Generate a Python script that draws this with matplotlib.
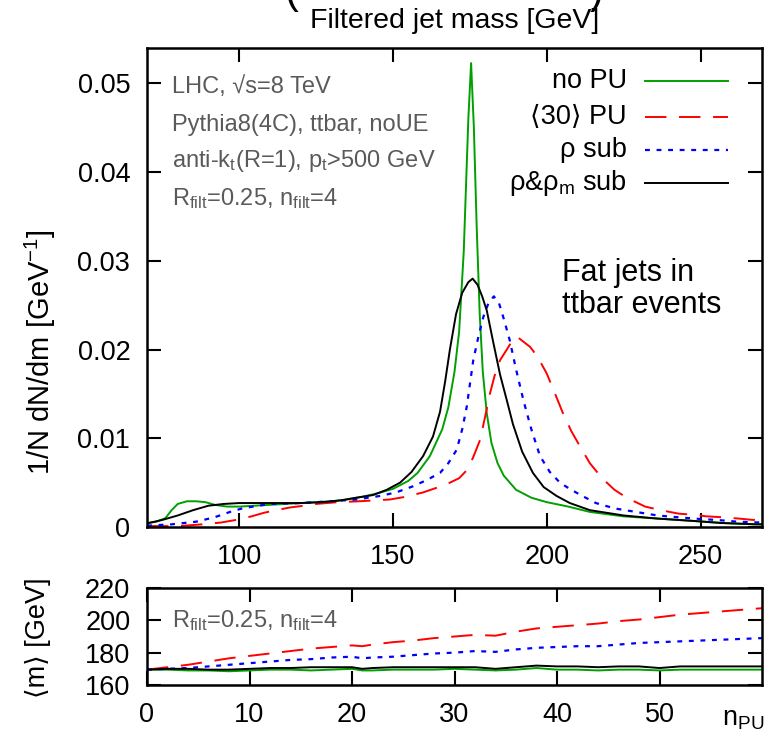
import numpy as np
import matplotlib.pyplot as plt

plt.rcParams['font.family'] = ['Liberation Sans', 'DejaVu Sans']
plt.rcParams['mathtext.fontset'] = 'custom'
plt.rcParams['mathtext.rm'] = 'Liberation Sans'
plt.rcParams['mathtext.it'] = 'Liberation Sans:italic'
plt.rcParams['mathtext.bf'] = 'Liberation Sans:bold'

# --- filtered jet mass distributions (1/N dN/dm) ---
mass_nopu = [70, 73, 76, 78, 80, 83, 86, 89, 92, 96, 100, 105, 110, 115, 120, 125,
             130, 135, 140, 145, 150, 155, 158, 162, 166, 168, 170, 171.5, 173, 174.5,
             175.4, 176.3, 177.2, 178.2, 179.2, 180.5, 182, 184, 186, 190, 195, 200,
             207, 214, 225, 236, 247, 257, 268, 270]
dndm_nopu = [0.00045, 0.0006, 0.0010, 0.0019, 0.0026, 0.0029, 0.0029, 0.0028, 0.0025,
             0.0023, 0.0023, 0.0024, 0.0025, 0.0026, 0.0027, 0.0028, 0.0029, 0.0031,
             0.0034, 0.0038, 0.0043, 0.0052, 0.0061, 0.0080, 0.0110, 0.0135, 0.0175,
             0.0220, 0.0310, 0.0460, 0.0523, 0.0450, 0.0340, 0.0240, 0.0175, 0.0128,
             0.0095, 0.0072, 0.0058, 0.0042, 0.0033, 0.0028, 0.0023, 0.0017, 0.0012,
             0.00095, 0.0007, 0.00045, 0.0003, 0.0003]

mass_pu30 = [70, 80, 88, 94, 99, 104, 108, 112, 116.5, 121, 125, 132, 139, 144, 149,
             154, 159.8, 164, 168.5, 171.5, 174, 176, 178.3, 180, 181.5, 183, 184.8,
             187, 188.8, 190.2, 192, 194.6, 197, 200, 202.5, 205.3, 208, 210.8, 214,
             218, 222, 226, 232, 237, 243, 247, 252, 257, 262.5, 267, 270]
dndm_pu30 = [0.0001, 0.0001, 0.0003, 0.0005, 0.0008, 0.0012, 0.0016, 0.0019, 0.0022,
             0.0024, 0.0026, 0.0028, 0.0029, 0.0030, 0.0031, 0.0034, 0.0039, 0.0044,
             0.0050, 0.0055, 0.0064, 0.0078, 0.0098, 0.0125, 0.0150, 0.0170, 0.0188,
             0.0200, 0.0210, 0.0215, 0.0210, 0.0203, 0.0192, 0.0173, 0.0152, 0.0128,
             0.0108, 0.0091, 0.0072, 0.0055, 0.0042, 0.0033, 0.0023, 0.0019, 0.0015,
             0.0014, 0.0012, 0.0011, 0.00095, 0.0008, 0.0008]

mass_rho = [70, 78, 86, 92, 97, 101, 104.5, 110, 120, 130, 138, 145.8, 151, 156.6, 161,
            165.3, 168, 170.7, 172.5, 174, 176.1, 177.8, 179.4, 181, 182.8, 184.5, 186,
            188, 190, 192.4, 195, 197.8, 201, 204.3, 207, 211, 216, 222, 229, 236,
            242.6, 250, 255, 262, 270]
dndm_rho = [0.00015, 0.0003, 0.0006, 0.0011, 0.0017, 0.0021, 0.0023, 0.0026, 0.0027,
            0.0029, 0.0031, 0.0035, 0.0039, 0.0046, 0.0053, 0.0061, 0.0072, 0.0087,
            0.0110, 0.0136, 0.0188, 0.0215, 0.0237, 0.0252, 0.0260, 0.0252, 0.0235,
            0.0210, 0.0178, 0.0143, 0.0110, 0.0080, 0.0062, 0.0050, 0.0044, 0.0036,
            0.0027, 0.0021, 0.0017, 0.0013, 0.0011, 0.0009, 0.0008, 0.0006, 0.0005]

mass_rhom = [70, 75, 80, 85, 90, 95, 100, 110, 120, 127, 133, 138, 143.5, 148, 152.3,
             156, 159.8, 163, 165.3, 167, 168.5, 170.5, 172.5, 174.5, 175.9, 177.5,
             179, 180.5, 182.5, 184.8, 187, 189, 192, 195.5, 199, 203.2, 207.5, 214,
             225, 236, 247, 257, 268, 270]
dndm_rhom = [0.0004, 0.0008, 0.0013, 0.0019, 0.0024, 0.0026, 0.0027, 0.0027, 0.0027,
             0.0028, 0.0030, 0.0033, 0.0036, 0.0042, 0.0050, 0.0062, 0.0080, 0.0102,
             0.0130, 0.0165, 0.0200, 0.0240, 0.0264, 0.0276, 0.0280, 0.0273, 0.0260,
             0.0244, 0.0210, 0.0172, 0.0143, 0.0116, 0.0085, 0.0061, 0.0045, 0.0035,
             0.0027, 0.0019, 0.0013, 0.00095, 0.0007, 0.00045, 0.0003, 0.0003]

# --- average filtered mass vs number of pileup vertices ---
npu = [0, 2, 4, 6, 8, 10, 12, 14, 16, 18, 20, 21, 22, 24, 26, 28, 30, 32, 34, 36, 38,
       40, 42, 44, 46, 48, 50, 52, 54, 56, 58, 60]
mavg_nopu = [169.5, 169.5, 169, 169, 168.5, 169, 169.5, 169.5, 169, 169.5, 170, 169,
             169, 169.5, 169.5, 169.5, 170, 169.5, 169, 169.5, 170.5, 169.5, 169.5, 169,
             169.5, 169.5, 169, 169.5, 169.5, 169.5, 169.5, 169.5]
mavg_pu30 = [169.5, 171, 172.5, 174.5, 176.5, 178, 179.5, 181, 182.5, 183.5, 184.5, 184,
             185, 186.5, 187.5, 189, 190, 191, 190.5, 193, 195, 196, 197, 198, 199.5,
             200.5, 202, 203.5, 204.5, 205.5, 206.5, 207.5]
mavg_rho = [169.5, 170, 170.5, 171.5, 172.5, 173.5, 174.5, 175.5, 176, 177, 177.5, 176.5,
            177, 177.5, 178.5, 179.5, 180, 181, 180.5, 182, 183, 183.5, 184, 184, 185,
            186, 186.5, 187, 187.5, 188, 188.5, 189]
mavg_rhom = [169.5, 170, 170, 169.5, 169.5, 170, 170.5, 170.5, 171, 171, 171, 170, 170.5,
             171, 171, 171, 171, 171, 170, 171, 172, 171.5, 171.5, 171, 171.5, 171.5,
             170.5, 171.5, 171.5, 171.5, 171.5, 171.5]

labels = ['no PU', '\u27e830\u27e9 PU', '\u03c1 sub', '\u03c1&\u03c1$_\\mathrm{m}$ sub']
styles = [
    dict(color='#00a000', lw=1.4, ls='-'),
    dict(color='#ff0000', lw=1.4, dashes=(11, 6.5)),
    dict(color='#0000ff', lw=1.6, dashes=(2.2, 3.0)),
    dict(color='#000000', lw=1.4, ls='-'),
]
gray = '#5a5a5a'
tsize = 19.5

fig = plt.figure(figsize=(7.68, 7.36), dpi=100)
ax = fig.add_axes([147 / 768, 1 - 527 / 736, 615 / 768, 479 / 736])
ax2 = fig.add_axes([147 / 768, 1 - 685 / 736, 615 / 768, 97 / 736])

top_series = [(mass_nopu, dndm_nopu), (mass_pu30, dndm_pu30),
              (mass_rho, dndm_rho), (mass_rhom, dndm_rhom)]
for (m, d), st in zip(top_series, styles):
    ax.plot(m, d, **st)

bot_series = [mavg_nopu, mavg_pu30, mavg_rho, mavg_rhom]
for vals, st in zip(bot_series, styles):
    ax2.plot(npu, vals, **st)

for a in (ax, ax2):
    a.tick_params(direction='in', top=True, right=True, length=10, width=1.5,
                  labelsize=tsize, pad=12)
    for sp in a.spines.values():
        sp.set_linewidth(1.8)

ax.set_xlim(70, 270)
ax.set_ylim(0, 0.054)
ax.set_xticks([100, 150, 200, 250])
ax.set_yticks([0, 0.01, 0.02, 0.03, 0.04, 0.05])
ax.set_yticklabels(['0', '0.01', '0.02', '0.03', '0.04', '0.05'])

ax2.set_xlim(0, 60)
ax2.set_ylim(160, 220)
ax2.set_xticks([0, 10, 20, 30, 40, 50])
ax2.set_yticks([160, 180, 200, 220])

# legend, right aligned text with line samples to the right
leg_y = [0.9317, 0.8566, 0.787, 0.718]
for lab, st, y in zip(labels, styles, leg_y):
    ax.text(0.780, y, lab, transform=ax.transAxes, ha='right', va='center',
            fontsize=tsize)
    ax.plot([0.8098, 0.9447], [y, y], transform=ax.transAxes, **st)

info = ['LHC, \u221as=8 TeV',
        'Pythia8(4C), ttbar, noUE',
        'anti-k$_\\mathrm{t}$(R=1), p$_\\mathrm{t}$>500 GeV',
        'R$_\\mathrm{filt}$=0.25, n$_\\mathrm{filt}$=4']
for txt, y in zip(info, [0.9067, 0.8273, 0.751, 0.6722]):
    ax.text(0.040, y, txt, transform=ax.transAxes, ha='left', va='baseline',
            fontsize=17, color=gray)

ax.text(0.675, 0.497, 'Fat jets in\nttbar events', transform=ax.transAxes,
        ha='left', va='center', fontsize=22, linespacing=1.05)

ax2.text(0.040, 0.66, 'R$_\\mathrm{filt}$=0.25, n$_\\mathrm{filt}$=4',
         transform=ax2.transAxes, ha='left', va='center', fontsize=17, color=gray)

fig.text(455 / 768, 1 - 21 / 736, 'Filtered jet mass [GeV]', ha='center',
         va='center', fontsize=20.5)
fig.text(291 / 768, 1 - 12 / 736, '(', ha='center', va='bottom', fontsize=30)
fig.text(597 / 768, 1 - 12 / 736, ')', ha='center', va='bottom', fontsize=30)

fig.text(40 / 768, 1 - 352 / 736, '1/N dN/dm [GeV$^{-1}$]', rotation=90,
         ha='center', va='center', fontsize=21)
fig.text(38 / 768, 1 - 638 / 736, '\u27e8m\u27e9 [GeV]', rotation=90,
         ha='center', va='center', fontsize=tsize)
fig.text(722 / 768, 1 - 726 / 736, 'n$_\\mathrm{PU}$', ha='left', va='baseline',
         fontsize=tsize)

fig.savefig('out.png', dpi=100)
